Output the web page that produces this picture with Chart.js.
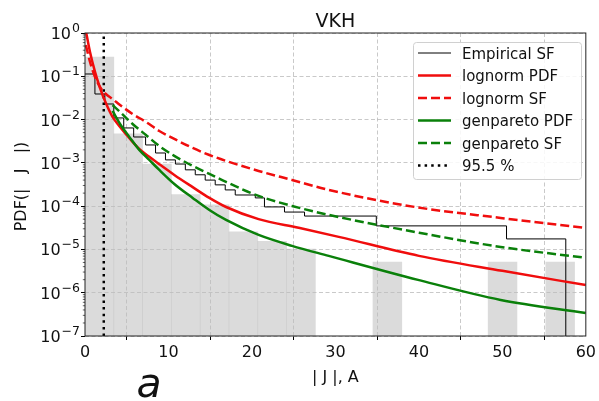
<!DOCTYPE html>
<html>
<head>
<meta charset="utf-8">
<script src="https://cdn.jsdelivr.net/npm/chart.js@4.4.0/dist/chart.umd.min.js"></script>
<style>
  html, body { margin: 0; padding: 0; background: #fff; }
  #wrap { width: 599px; height: 401px; }
</style>
</head>
<body>
<div id="wrap"><canvas id="chart" width="599" height="401"></canvas></div>
<script>
// histogram of |J|, density per bin
const binEdges = [0, 3.45, 6.9, 10.35, 13.8, 17.25, 20.7, 24.15, 27.6, 31.05, 34.5, 37.95, 41.4, 44.85, 48.3, 51.75, 55.2, 58.65];
const binDensity = [0.279, 0.0047, 0.00094, 0.000184, 0.000107, 0.0000255, 0.0000153, 0.0000102, null, null, 0.0000051, null, null, null, 0.0000051, null, 0.0000051];

// empirical survival function (step knots)
const sfX = [0, 1.19, 2.38, 3.45, 4.64, 5.83, 7.26, 8.45, 9.64, 10.83, 12.02, 13.21, 14.4, 15.6, 16.8, 18.0, 20.4, 21.5, 23.9, 26.3, 34.9, 50.5, 57.6];
const sfY = [0.113, 0.039, 0.0229, 0.0109, 0.0064, 0.00396, 0.00259, 0.00169, 0.00117, 0.00094, 0.00069, 0.00053, 0.0004, 0.00031, 0.000237, 0.000181, 0.000155, 0.000096, 0.000073, 0.000059, 0.000035, 0.0000175, 1e-7];

// lognorm fit
const lnPdfX = [0.1, 0.6, 1.2, 1.8, 2.5, 3.3, 4.2, 5.4, 6.5, 7.7, 8.9, 10.7, 12.9, 14.9, 16.9, 20.8, 25.6, 30.4, 40, 50, 60];
const lnPdfY = [1.12, 0.363, 0.126, 0.0537, 0.024, 0.0115, 0.00676, 0.00355, 0.00209, 0.00138, 0.00093, 0.000525, 0.000275, 0.000155, 0.0000955, 0.00005, 0.0000316, 0.0000195, 0.0000071, 0.0000032, 0.0000015];
const lnSfX = [0.1, 0.6, 1.2, 1.8, 2.5, 3.3, 4.2, 5.7, 7.3, 8.9, 10.7, 12.9, 14.9, 16.9, 20.8, 24.8, 29.2, 39.5, 49.8, 60];
const lnSfY = [0.528, 0.214, 0.0964, 0.0566, 0.039, 0.0299, 0.0217, 0.01346, 0.00881, 0.00546, 0.00357, 0.00221, 0.00152, 0.00111, 0.00065, 0.000403, 0.000237, 0.0000959, 0.0000534, 0.0000314];

// genpareto fit (above threshold)
const gpPdfX = [3.3, 4.2, 5.4, 6.5, 7.7, 8.9, 10.7, 12.9, 14.9, 16.9, 20.8, 24.8, 29.2, 39.9, 49.8, 60];
const gpPdfY = [0.0158, 0.0079, 0.00376, 0.00199, 0.00117, 0.000686, 0.000326, 0.000155, 0.0000817, 0.000048, 0.0000216, 0.0000121, 0.0000071, 0.00000198, 0.00000068, 0.00000034];
const gpSfX = [3.3, 4.2, 5.7, 7.3, 8.9, 10.7, 12.9, 14.9, 16.9, 20.8, 24.8, 29.2, 39.5, 49.8, 60];
const gpSfY = [0.0217, 0.015, 0.0079, 0.0044, 0.00245, 0.00145, 0.00085, 0.000555, 0.000362, 0.000172, 0.000101, 0.0000627, 0.0000254, 0.0000114, 0.0000064];

// 95.5 % quantile
const q955 = 2.25;

// axis ticks
const xTicks = [0, 10, 20, 30, 40, 50, 60];
const yDecades = [1, 0.1, 0.01, 0.001, 0.0001, 0.00001, 0.000001, 0.0000001];
const yExpLabels = ['0', '\u22121', '\u22122', '\u22123', '\u22124', '\u22125', '\u22126', '\u22127'];

const FONT = '"DejaVu Sans", sans-serif';
const RED = '#f00d0d';
const GREEN = '#0a800a';

function pts(xs, ys) {
  return xs.map((x, i) => ({ x: x, y: ys[i] }));
}

const histData = binDensity.map((v, i) => ({ x: (binEdges[i] + binEdges[i + 1]) / 2, y: v }));

const legendItems = [
  { text: 'Empirical SF', ds: 1 },
  { text: 'lognorm PDF', ds: 2 },
  { text: 'lognorm SF', ds: 3 },
  { text: 'genpareto PDF', ds: 4 },
  { text: 'genpareto SF', ds: 5 },
  { text: '95.5 %', ds: 6 }
];

const decorPlugin = {
  id: 'decor',
  afterDraw(chart) {
    const c = chart.ctx;
    const ca = chart.chartArea;
    const ys = chart.scales.y;

    c.save();
    // frame
    c.strokeStyle = '#222';
    c.lineWidth = 1;
    c.strokeRect(ca.left, ca.top, ca.right - ca.left, ca.bottom - ca.top);

    // minor log ticks
    c.lineWidth = 0.6;
    c.strokeStyle = '#000';
    yDecades.forEach(d => {
      if (d >= 1) return;
      for (let m = 2; m <= 9; m++) {
        const y = ys.getPixelForValue(m * d);
        c.beginPath();
        c.moveTo(ca.left - 2.2, y);
        c.lineTo(ca.left, y);
        c.stroke();
      }
    });

    // y tick labels with superscript exponent
    c.fillStyle = '#111';
    const right = ca.left - 5;
    yDecades.forEach((d, i) => {
      const y = ys.getPixelForValue(d);
      c.font = '12.5px ' + FONT;
      const sw = c.measureText(yExpLabels[i]).width;
      c.textAlign = 'left';
      c.textBaseline = 'alphabetic';
      c.fillText(yExpLabels[i], right - sw, y - 1);
      c.font = '16px ' + FONT;
      c.textAlign = 'right';
      c.fillText('10', right - sw - 1, y + 6);
    });

    // title and axis titles
    c.textAlign = 'center';
    c.textBaseline = 'alphabetic';
    c.font = '19px ' + FONT;
    c.fillText('VKH', (ca.left + ca.right) / 2, 27);
    c.font = '16px ' + FONT;
    c.fillText('| J |, A', (ca.left + ca.right) / 2, 382);
    c.save();
    c.translate(26, (ca.top + ca.bottom) / 2 + 2);
    c.rotate(-Math.PI / 2);
    c.fillText('PDF(|   J   |)', 0, 0);
    c.restore();

    // panel letter
    c.font = 'italic 41px ' + FONT;
    c.fillText('a', 149, 397);

    // legend
    const bx = 413, by = 42, bw = 168, bh = 137;
    c.fillStyle = 'rgba(255,255,255,0.85)';
    c.strokeStyle = '#d0d0d0';
    c.lineWidth = 1;
    c.beginPath();
    c.roundRect(bx + 0.5, by + 0.5, bw, bh, 3);
    c.fill();
    c.stroke();
    legendItems.forEach((it, i) => {
      const ds = chart.data.datasets[it.ds];
      const y = 53 + i * 22.5;
      c.save();
      c.strokeStyle = ds.borderColor;
      c.lineWidth = ds.borderWidth;
      c.setLineDash(ds.borderDash || []);
      c.lineCap = 'butt';
      c.beginPath();
      c.moveTo(418, y);
      c.lineTo(451, y);
      c.stroke();
      c.restore();
      c.fillStyle = '#111';
      c.font = '15px ' + FONT;
      c.textAlign = 'left';
      c.fillText(it.text, 462, y + 5.5);
    });
    c.restore();
  }
};

new Chart(document.getElementById('chart'), {
  type: 'line',
  data: {
    datasets: [
      {
        type: 'bar',
        label: 'histogram',
        data: histData,
        backgroundColor: 'rgba(190,190,190,0.55)',
        borderWidth: 0,
        barPercentage: 1,
        categoryPercentage: 1,
        order: 10
      },
      {
        label: 'Empirical SF',
        data: pts(sfX, sfY),
        borderColor: '#000',
        borderWidth: 1,
        stepped: true,
        pointRadius: 0,
        order: 5
      },
      {
        label: 'lognorm PDF',
        data: pts(lnPdfX, lnPdfY),
        borderColor: RED,
        borderWidth: 2.5,
        cubicInterpolationMode: 'monotone',
        pointRadius: 0,
        order: 3
      },
      {
        label: 'lognorm SF',
        data: pts(lnSfX, lnSfY),
        borderColor: RED,
        borderWidth: 2.5,
        borderDash: [9, 4],
        cubicInterpolationMode: 'monotone',
        pointRadius: 0,
        order: 2
      },
      {
        label: 'genpareto PDF',
        data: pts(gpPdfX, gpPdfY),
        borderColor: GREEN,
        borderWidth: 2.5,
        cubicInterpolationMode: 'monotone',
        pointRadius: 0,
        order: 1
      },
      {
        label: 'genpareto SF',
        data: pts(gpSfX, gpSfY),
        borderColor: GREEN,
        borderWidth: 2.5,
        borderDash: [9, 4],
        cubicInterpolationMode: 'monotone',
        pointRadius: 0,
        order: 0
      },
      {
        label: '95.5 %',
        data: [{ x: q955, y: 1e-7 }, { x: q955, y: 1 }],
        borderColor: '#000',
        borderWidth: 2.5,
        borderDash: [2.5, 4.1],
        pointRadius: 0,
        order: 4
      }
    ]
  },
  options: {
    responsive: false,
    animation: false,
    devicePixelRatio: 1,
    layout: { padding: { top: 33, right: 10, left: 0, bottom: 0 } },
    plugins: {
      legend: { display: false },
      tooltip: { enabled: false }
    },
    scales: {
      x: {
        type: 'linear',
        min: 0,
        max: 60,
        offset: false,
        afterBuildTicks: s => { s.ticks = xTicks.map(v => ({ value: v })); },
        afterFit: s => { s.height = 65; },
        ticks: { font: { family: FONT, size: 16 }, color: '#111', padding: 3, maxRotation: 0 },
        grid: {
          color: 'rgba(170,170,170,0.8)',
          lineWidth: 0.8,
          tickLength: 4,
          tickColor: '#000',
          tickWidth: 1
        },
        border: { display: false, dash: [4, 2.5] }
      },
      y: {
        type: 'logarithmic',
        min: 1e-7,
        max: 1,
        afterBuildTicks: s => { s.ticks = yDecades.map(v => ({ value: v, major: true })); },
        afterFit: s => { s.width = 85; },
        ticks: { autoSkip: false, callback: () => '', font: { family: FONT, size: 16 } },
        grid: {
          color: 'rgba(170,170,170,0.8)',
          lineWidth: 0.8,
          tickLength: 4,
          tickColor: '#000',
          tickWidth: 1
        },
        border: { display: false, dash: [4, 2.5] }
      }
    }
  },
  plugins: [decorPlugin]
});
</script>
</body>
</html>
